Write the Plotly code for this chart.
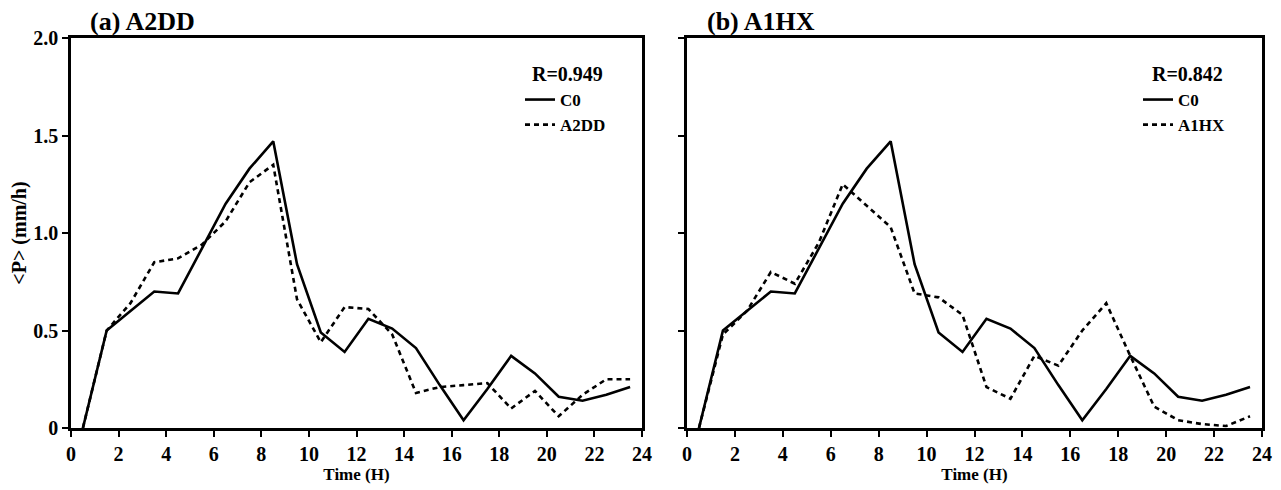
import plotly.graph_objects as go

# Hourly means, plotted at the middle of each hour
hours = [0.5 + i for i in range(24)]

c0 = [0.00, 0.50, 0.60, 0.70, 0.69, 0.92, 1.15, 1.33, 1.47, 0.84, 0.49, 0.39,
      0.56, 0.51, 0.41, 0.22, 0.04, 0.20, 0.37, 0.28, 0.16, 0.14, 0.17, 0.21]
a2dd = [0.00, 0.50, 0.64, 0.85, 0.87, 0.94, 1.06, 1.26, 1.35, 0.66, 0.44, 0.62,
        0.61, 0.48, 0.18, 0.21, 0.22, 0.23, 0.10, 0.19, 0.06, 0.17, 0.25, 0.25]
a1hx = [0.00, 0.48, 0.60, 0.80, 0.74, 0.95, 1.25, 1.14, 1.03, 0.69, 0.67, 0.58,
        0.21, 0.15, 0.37, 0.32, 0.50, 0.64, 0.37, 0.11, 0.04, 0.02, 0.01, 0.06]

panel_titles = ["(a) A2DD", "(b) A1HX"]
r_values = ["R=0.949", "R=0.842"]
x_ticks = list(range(0, 25, 2))
y_ticks = [0, 0.5, 1.0, 1.5, 2.0]
y_tick_text = ["0", "0.5", "1.0", "1.5", "2.0"]

FONT = "Liberation Serif, Times New Roman, serif"
W, H = 1281, 490

fig = go.Figure()

# left panel
fig.add_trace(go.Scatter(x=hours, y=c0, name="C0", mode="lines",
                         line=dict(color="black", width=2.6),
                         xaxis="x", yaxis="y", legend="legend"))
fig.add_trace(go.Scatter(x=hours, y=a2dd, name="A2DD", mode="lines",
                         line=dict(color="black", width=2.6, dash="5px,4px"),
                         xaxis="x", yaxis="y", legend="legend"))
# right panel
fig.add_trace(go.Scatter(x=hours, y=c0, name="C0", mode="lines",
                         line=dict(color="black", width=2.6),
                         xaxis="x2", yaxis="y2", legend="legend2"))
fig.add_trace(go.Scatter(x=hours, y=a1hx, name="A1HX", mode="lines",
                         line=dict(color="black", width=2.6, dash="5px,4px"),
                         xaxis="x2", yaxis="y2", legend="legend2"))

px_x = lambda p: p / W
px_y = lambda p: 1 - p / H

left_dom = [px_x(71), px_x(642)]
right_dom = [px_x(687), px_x(1262)]
y_dom = [px_y(428), px_y(38)]

axis_common = dict(
    showline=True, linecolor="black", linewidth=2.5, mirror=True,
    ticks="outside", ticklen=6, tickwidth=2, tickcolor="black",
    showgrid=False, zeroline=False, automargin=False,
    tickfont=dict(family=FONT, size=20, color="black", weight="bold"),
)

xaxis_common = dict(axis_common, range=[0, 24], tickvals=x_ticks,
                    title=dict(text="Time (H)", standoff=0,
                               font=dict(family=FONT, size=17, color="black", weight="bold")))
yaxis_common = dict(axis_common, range=[0, 2.0], tickvals=y_ticks, ticktext=y_tick_text)

legend_style = dict(xanchor="left", yanchor="top", bgcolor="rgba(0,0,0,0)",
                    borderwidth=0, tracegroupgap=0, itemwidth=30,
                    font=dict(family=FONT, size=17, color="black", weight="bold"))

fig.update_layout(
    width=W, height=H,
    margin=dict(l=0, r=0, t=0, b=0),
    paper_bgcolor="white", plot_bgcolor="white",
    font=dict(family=FONT, color="black"),
    xaxis=dict(xaxis_common, domain=left_dom, anchor="y"),
    yaxis=dict(yaxis_common, domain=y_dom, anchor="x",
               title=dict(text="&lt;P&gt; (mm/h)", standoff=2,
                          font=dict(family=FONT, size=20, color="black", weight="bold"))),
    xaxis2=dict(xaxis_common, domain=right_dom, anchor="y2"),
    yaxis2=dict(yaxis_common, domain=y_dom, anchor="x2", showticklabels=False),
    legend=dict(legend_style, x=px_x(520), y=px_y(82)),
    legend2=dict(legend_style, x=px_x(1138), y=px_y(82)),
    showlegend=True,
)

# panel titles
for title, x0 in zip(panel_titles, [px_x(88), px_x(705)]):
    fig.add_annotation(text=title, x=x0, y=px_y(22), xref="paper", yref="paper",
                       xanchor="left", yanchor="middle", showarrow=False,
                       font=dict(family=FONT, size=26, color="black", weight="bold"))

# correlation coefficients
for r, x1 in zip(r_values, [px_x(605), px_x(1225)]):
    fig.add_annotation(text=r, x=x1, y=px_y(74), xref="paper", yref="paper",
                       xanchor="right", yanchor="middle", showarrow=False,
                       font=dict(family=FONT, size=20, color="black", weight="bold"))

fig.write_html("out.html")
